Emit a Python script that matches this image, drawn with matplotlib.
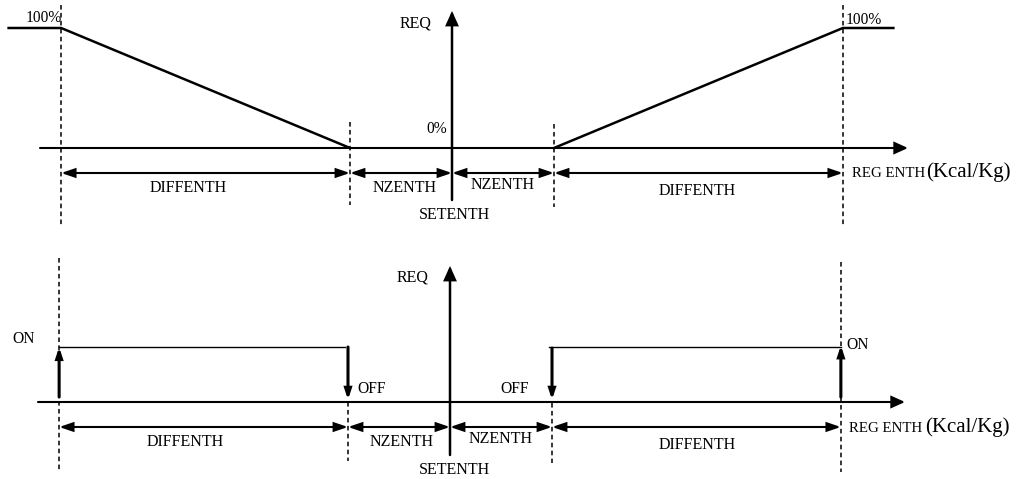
import matplotlib
matplotlib.use('Agg')
import matplotlib.pyplot as plt

# ---------------- data ----------------
SETENTH = 0.0
NZENTH = 1.01
DIFFENTH = 2.86
REQ_MAX = 100
REQ_MIN = 0
STATE_ON = 1
STATE_OFF = 0
req_tick_labels = ['100%', '0%']
state_labels = ['ON', 'OFF']
band_labels = ['DIFFENTH', 'NZENTH', 'NZENTH', 'DIFFENTH']
x_axis_label = ['REG ENTH', '(Kcal/Kg)']
y_axis_label = 'REQ'
set_label = 'SETENTH'

bounds = [SETENTH - NZENTH - DIFFENTH, SETENTH - NZENTH, SETENTH,
          SETENTH + NZENTH, SETENTH + NZENTH + DIFFENTH]

# ---------------- figure ----------------
plt.rcParams['font.family'] = ['Liberation Serif', 'DejaVu Serif']
W, H = 1020, 479
fig = plt.figure(figsize=(W / 100, H / 100), dpi=100)
PX = 101.0
SPLIT = 240
FS = 11.5


def make_panel(rect, top_px, bot_px, cx, y0, ypx_per_unit):
    ax = fig.add_axes(rect)
    X = lambda px: (px - cx) / PX
    Y = lambda py: (y0 - py) / ypx_per_unit
    ax.set_xlim(X(0), X(W))
    ax.set_ylim(Y(bot_px), Y(top_px))
    ax.axis('off')
    return ax, X, Y


def arrow(ax, p0, p1, style, lw, hl, hw):
    ax.annotate('', xy=p1, xytext=p0,
                arrowprops=dict(arrowstyle=f'{style},head_length={hl},head_width={hw}',
                                lw=lw, color='k', shrinkA=0, shrinkB=0,
                                mutation_scale=10, joinstyle='miter'))


def dashed(ax, x, ya, yb):
    ax.plot([x, x], [ya, yb], color='k', lw=1.1, ls=(0, (3, 2.2)))


# ---------------- top panel ----------------
ax1, X1, Y1 = make_panel([0, 1 - SPLIT / H, 1, SPLIT / H], 0, SPLIT, 452, 148, 1.2)

# axes
arrow(ax1, (X1(40), 0), (X1(908), 0), '-|>', 1.5, 0.8, 0.36)
arrow(ax1, (0, Y1(200)), (0, Y1(11)), '-|>', 1.8, 0.8, 0.36)

# request curve (falling branch and rising branch)
cx_curve = [bounds[0] - 0.52, bounds[0], bounds[1], bounds[3], bounds[4], bounds[4] + 0.5]
cy_curve = [REQ_MAX, REQ_MAX, REQ_MIN, REQ_MIN, REQ_MAX, REQ_MAX]
ax1.plot(cx_curve[:3], cy_curve[:3], color='k', lw=1.8, solid_joinstyle='miter')
ax1.plot(cx_curve[3:], cy_curve[3:], color='k', lw=1.8, solid_joinstyle='miter')

# dashed limits
dashed(ax1, bounds[0], Y1(5), Y1(225))
dashed(ax1, bounds[1], Y1(122), Y1(205))
dashed(ax1, bounds[3], Y1(124), Y1(207))
dashed(ax1, bounds[4], Y1(5), Y1(225))

# dimension arrows
for a, b in zip(bounds[:-1], bounds[1:]):
    arrow(ax1, (a, Y1(173)), (b, Y1(173)), '<|-|>', 1.5, 0.8, 0.27)

band_pos1 = [(188, 192), (405, 192), (503, 189), (697, 195)]
for lab, (px, py) in zip(band_labels, band_pos1):
    ax1.text(X1(px), Y1(py), lab, ha='center', va='baseline', fontsize=FS)

ax1.text(X1(26), Y1(22), req_tick_labels[0], ha='left', va='baseline', fontsize=FS - 0.3)
ax1.text(X1(846), Y1(24), req_tick_labels[0], ha='left', va='baseline', fontsize=FS - 0.3)
ax1.text(X1(447), Y1(133), req_tick_labels[1], ha='right', va='baseline', fontsize=FS - 0.3)
ax1.text(X1(416), Y1(28), y_axis_label, ha='center', va='baseline', fontsize=FS)
ax1.text(X1(455), Y1(219), set_label, ha='center', va='baseline', fontsize=FS)
ax1.text(X1(852), Y1(177), x_axis_label[0], ha='left', va='baseline', fontsize=10.7)
ax1.text(X1(926), Y1(177), x_axis_label[1], ha='left', va='baseline', fontsize=15)

# ---------------- bottom panel ----------------
ax2, X2, Y2 = make_panel([0, 0, 1, (H - SPLIT) / H], SPLIT, H, 450, 402, 55.0)

arrow(ax2, (X2(38), 0), (X2(905), 0), '-|>', 1.5, 0.8, 0.36)
arrow(ax2, (0, Y2(455)), (0, Y2(266)), '-|>', 1.8, 0.8, 0.36)

# ON levels
ax2.plot([bounds[0], bounds[1] - 0.03], [STATE_ON, STATE_ON], color='k', lw=1.0)
ax2.plot([bounds[3] - 0.03, bounds[4]], [STATE_ON, STATE_ON], color='k', lw=1.0)

# switching arrows
sw = 0.09
arrow(ax2, (bounds[0], STATE_OFF + sw), (bounds[0], STATE_ON), '-|>', 2.2, 0.55, 0.18)
arrow(ax2, (bounds[1], STATE_ON), (bounds[1], STATE_OFF + 0.04), '-|>', 2.2, 0.55, 0.18)
arrow(ax2, (bounds[3], STATE_ON - 0.02), (bounds[3], STATE_OFF + 0.04), '-|>', 2.2, 0.55, 0.18)
arrow(ax2, (bounds[4], STATE_OFF + sw), (bounds[4], STATE_ON + 0.03), '-|>', 2.2, 0.55, 0.18)

dashed(ax2, bounds[0], Y2(258), Y2(472))
dashed(ax2, bounds[1], Y2(402), Y2(461))
dashed(ax2, bounds[3], Y2(403), Y2(463))
dashed(ax2, bounds[4], Y2(262), Y2(472))

for a, b in zip(bounds[:-1], bounds[1:]):
    arrow(ax2, (a, Y2(427)), (b, Y2(427)), '<|-|>', 1.5, 0.8, 0.27)

band_pos2 = [(185, 446), (402, 446), (501, 443), (697, 449)]
for lab, (px, py) in zip(band_labels, band_pos2):
    ax2.text(X2(px), Y2(py), lab, ha='center', va='baseline', fontsize=FS)

ax2.text(X2(12), Y2(343), state_labels[0], ha='left', va='baseline', fontsize=FS - 0.3)
ax2.text(X2(846), Y2(349), state_labels[0], ha='left', va='baseline', fontsize=FS - 0.3)
ax2.text(X2(357), Y2(393), state_labels[1], ha='left', va='baseline', fontsize=FS - 0.3)
ax2.text(X2(529), Y2(393), state_labels[1], ha='right', va='baseline', fontsize=FS - 0.3)
ax2.text(X2(413), Y2(282), y_axis_label, ha='center', va='baseline', fontsize=FS)
ax2.text(X2(454), Y2(474), set_label, ha='center', va='baseline', fontsize=FS)
ax2.text(X2(849), Y2(432), x_axis_label[0], ha='left', va='baseline', fontsize=10.7)
ax2.text(X2(925), Y2(432), x_axis_label[1], ha='left', va='baseline', fontsize=15)

fig.savefig('out.png', dpi=100)
